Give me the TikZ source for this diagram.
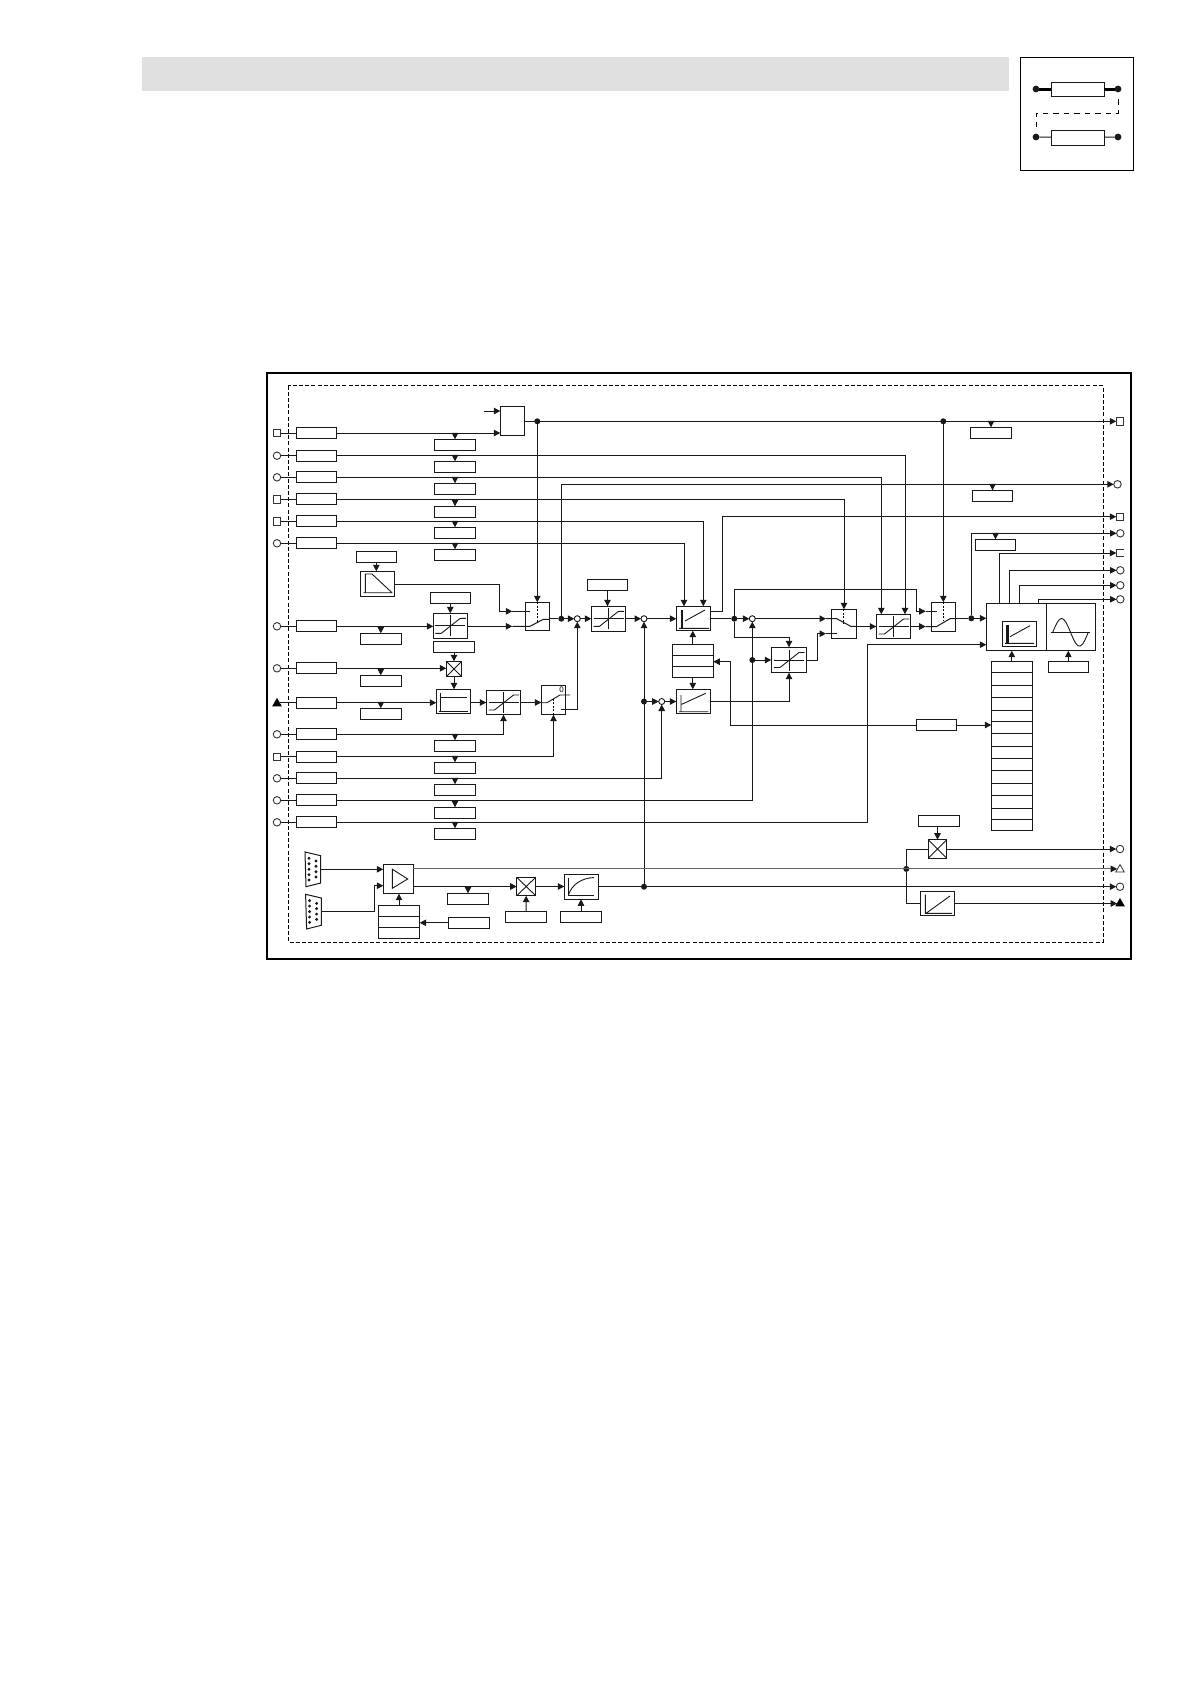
\documentclass[tikz,border=0pt]{standalone}
\usepackage{fontspec}
\setmainfont{Liberation Sans}
\usetikzlibrary{arrows.meta,shapes.geometric}
\tikzset{
  ln/.style={line width=1pt,draw=black!90},
  gln/.style={line width=1.1pt,draw=black!60},
  thinl/.style={line width=.9pt,draw=black!90},
  conn/.style={ln,-{Triangle[length=6.5pt,width=6.5pt]},color=black!90},
  gconn/.style={gln,-{Triangle[length=6.5pt,width=6.5pt,color=black!90]}},
  dsh/.style={line width=1pt,dash pattern=on 4pt off 2.2pt},
  icodsh/.style={line width=1pt,dash pattern=on 5.5pt off 5pt},
  dshs/.style={line width=.9pt,dash pattern=on 2pt off 1.5pt},
  box/.style={draw=black!90,line width=1pt,fill=white,inner sep=0pt,outer sep=0pt,rectangle},
  tsq/.style={draw=black!80,line width=.9pt,fill=white,inner sep=0pt,outer sep=0pt,rectangle,minimum size=7.5pt},
  tci/.style={draw=black!80,line width=.9pt,fill=white,inner sep=0pt,outer sep=0pt,circle,minimum size=7.5pt},
  ttr/.style={draw=black,line width=.6pt,fill=black,inner sep=0pt,outer sep=0pt,regular polygon,regular polygon sides=3,minimum size=9.8pt},
  ttro/.style={draw=black!80,line width=.8pt,fill=white,inner sep=0pt,outer sep=0pt,regular polygon,regular polygon sides=3,minimum size=9.8pt},
  sumc/.style={draw=black!90,line width=.9pt,fill=white,inner sep=0pt,outer sep=0pt,circle,minimum size=6pt},
  jdot/.style={fill=black!90,inner sep=0pt,outer sep=0pt,circle,minimum size=6pt},
  icodot/.style={fill=black!90,inner sep=0pt,outer sep=0pt,circle,minimum size=6.8pt},
}
\newcommand\bx[5]{%
  \pgfmathsetmacro\bw{#4-(#2)}\pgfmathsetmacro\bh{#5-(#3)}%
  \pgfmathsetmacro\bcx{(#2+#4)/2}\pgfmathsetmacro\bcy{(#3+#5)/2}%
  \node[box,minimum width=\bw pt,minimum height=\bh pt] (#1) at (\bcx,\bcy) {};}
\newcommand\xbx[5]{\bx{#1}{#2}{#3}{#4}{#5}%
  \draw[thinl] (#1.north west)--(#1.south east) (#1.north east)--(#1.south west);}
\newcommand\limg[1]{\begin{scope}[shift={(#1.center)}]
  \draw[thinl] (0,-10.5)--(0,10.5) (-15,0)--(15,0);
  \draw[thinl] (-15,7.5)--(-9,7.5)--(10,-7.5)--(15.5,-7.5);
\end{scope}}
\newcommand\dsub[2]{\begin{scope}[shift={(#1,#2)}]
  \draw[line width=1pt,draw=black!90] (0,0)--(15.7,3.7)--(15.7,31)--(1,34.7)--cycle;
  \foreach \d in {6.3,11.7,17.3,22.7,28}{\fill[black!90] (4,\d) circle (1.6pt);}
  \foreach \d in {9,14.3,19.7,25}{\fill[black!90] (11,\d) circle (1.6pt);}
\end{scope}}
\begin{document}
\begin{tikzpicture}[x=1pt,y=-1pt]
\useasboundingbox (0,0) rectangle (1190,1684);
\fill[white] (0,0) rectangle (1190,1684);
% header
\fill[black!12] (142,57) rectangle (1009,91);
% icon
\draw[line width=1pt] (1020,57) rectangle (1133,170);
\bx{icoT}{1051}{82}{1104}{96}
\bx{icoB}{1051}{130}{1104}{145}
\node[icodot] (icoa) at (1036,89) {};
\node[icodot] (icob) at (1118,89) {};
\node[icodot] (icoc) at (1036,137) {};
\node[icodot] (icod) at (1118,137) {};
\draw[line width=3pt] (icoa)--(icoT) (icoT)--(icob);
\draw[ln] (icoc)--(icoB) (icoB)--(icod);
\coordinate (dd1) at (1118,99);
\coordinate (dd2) at (1118,113);
\coordinate (dd3) at (1036,113);
\coordinate (dd4) at (1036,127);
\draw[icodsh] (dd1)--(dd2)--(dd3)--(dd4);
% frames
\draw[line width=2.2pt] (267,373) rectangle (1131,959);
\draw[dsh] (288,385.5) rectangle (1103,942);
% input rows
\foreach \n/\ty/\yy in {1/tsq/433,2/tci/455.7,3/tci/477.3,4/tsq/499.3,5/tsq/521.3,6/tci/543.3,7/tci/626.3,8/tci/668.3,10/tci/734.3,11/tsq/756.7,12/tci/778.3,13/tci/800.3,14/tci/822.3}{
  \node[style/.expanded=\ty] (t\n) at (277,\yy) {};
  \bx{r\n}{296}{\yy-5.5}{336.5}{\yy+5.5}
  \draw[ln] (r\n.west)--(r\n.west -| t\n.east);
}
\node[ttr] (t9) at (277,703.5) {};
\bx{r9}{296}{697.2}{336.5}{708.2}
\draw[ln] (r9.west)--(r9.west -| t9.east);
% parameter boxes under rows
\foreach \n/\yt in {1/439.3,2/461.3,3/483.3,4/506.3,5/527.3,6/549.3,10/740.3,11/762.3,12/784.3,13/807.3,14/828.3}{
  \bx{p\n}{434.3}{\yt}{475.7}{\yt+11}
  \draw[conn] (p\n.north |- r\n.east)--(p\n.north);
}
\foreach \n/\yt in {7/633.3,8/675.3,9/708.3}{
  \bx{p\n}{360.3}{\yt}{401.3}{\yt+11}
  \draw[conn] (p\n.north |- r\n.east)--(p\n.north);
}
% blocks
\bx{A}{500.3}{406.3}{524.7}{435.3}
\bx{pRamp}{356.3}{551.7}{396.3}{562.3}
\bx{Ramp}{360.3}{571.3}{394.7}{596.7}
\draw[thinl] (363.3,592.7)--(392.3,592.7) (365.3,592.7)--(365.3,574)--(372,574)--(392,592.7);
\bx{q7}{430.3}{592.3}{470.3}{603.7}
\bx{LimA}{433.3}{613.3}{467.3}{638.3}\limg{LimA}
\bx{q8}{433.3}{641.3}{474.3}{652.3}
\xbx{XA}{446.3}{661.3}{461.7}{676.7}
\bx{E}{436.3}{689.3}{470.7}{713.7}
\draw[thinl] (439,711.7)--(468.3,711.7) (440,711.7)--(440,693.3) (440,697.3)--(466.7,697.3);
\bx{F}{486.3}{690.3}{520.7}{714.7}\limg{F}
\bx{Z}{541.3}{685.3}{565.7}{714.7}
\draw[thinl] (541.3,702.7)--(547,702.7)--(560,695)--(570,695);
\draw[dshs] (553.3,714.7)--(553.3,699);
\node[font=\fontsize{8}{8}\selectfont,inner sep=0pt] (zero) at (561.7,690) {0};
\bx{S}{525.7}{602.3}{549.3}{630.3}
\draw[dshs] (537.3,602.3)--(537.3,622);
\bx{pL}{587.3}{579.3}{627.7}{590.7}
\bx{L}{591.3}{606.3}{625.7}{631.3}\limg{L}
\bx{B}{676.3}{606.3}{710.7}{630.7}
\draw[line width=2.4pt,black!90] (681.7,609.5)--(681.7,628);
\draw[thinl] (679,628.3)--(709,628.3) (685,621)--(705,610);
\bx{C}{672.3}{644.3}{713.3}{677.3}
\draw[thinl] (C.west |- 0,655.3)--(C.east |- 0,655.3) (C.west |- 0,666.3)--(C.east |- 0,666.3);
\bx{D}{676.3}{689.3}{710.7}{713.7}
\draw[thinl] (681,695)--(681,711.7) (679,711.7)--(708.3,711.7) (681.7,704.3)--(705.7,693.3);
\bx{LM}{771.3}{647.3}{806.7}{672.7}\limg{LM}
\bx{T}{831.3}{609.3}{856.7}{638.3}
\draw[dshs] (843.3,609.3)--(843.3,624);
\bx{LT}{876.3}{614.3}{910.7}{638.7}\limg{LT}
\bx{U}{931.3}{602.3}{955.3}{631.3}
\draw[dshs] (943.3,602.3)--(943.3,621);
\bx{BigA}{986.3}{603.3}{1046.7}{650.7}
\bx{BigB}{1046.7}{603.3}{1095.7}{650.7}
\bx{BigI}{1002.3}{621.3}{1036.7}{646.3}
\draw[line width=2.4pt,black!90] (1007.3,625)--(1007.3,643);
\draw[thinl] (1005,643.3)--(1034,643.3) (1010,636.7)--(1030,625.7);
\draw[thinl] (1050.7,632.3)--(1090,632.3);
\draw[thinl] plot[domain=0:360,samples=40,smooth] ({1052.7+\x/360*35.6},{632.3-13.7*sin(\x)});
\bx{W}{991.3}{661.3}{1032.3}{830.3}
\foreach \d in {37,76,112,151,184,221,259,295,331,370,406,445,478}{
  \draw[thinl] (991.3,660+\d/3)--(1032.3,660+\d/3);
}
\bx{pS}{1048.3}{661.3}{1088.3}{672.3}
\bx{pM}{916.3}{719.3}{956.7}{730.7}
\bx{pA}{970.3}{427.3}{1011.7}{438.3}
\bx{pB}{972.3}{490.3}{1012.7}{501.3}
\bx{pD}{975.3}{539.3}{1015.7}{550.3}
% bottom
\dsub{305}{852}
\dsub{305.6}{894.3}
\bx{Amp}{383.3}{864.3}{413.3}{893.7}
\draw[thinl] (392.3,869.2)--(407.7,879)--(392.3,888.3)--cycle;
\bx{pAmp}{447.3}{893.3}{488.7}{904.3}
\bx{St}{378.3}{905.3}{419.7}{938.3}
\draw[thinl] (St.west |- 0,916.3)--(St.east |- 0,916.3) (St.west |- 0,927.3)--(St.east |- 0,927.3);
\bx{pSt}{448.3}{917.3}{489.7}{928.3}
\xbx{XB}{516.7}{877.3}{535.7}{895.7}
\bx{pXB}{505.3}{911.3}{546.7}{922.3}
\bx{G}{564.3}{874.3}{598.7}{899.3}
\draw[thinl] (568.3,878)--(568.3,895.3)--(594,895.3);
\draw[thinl] (568.3,895.3) .. controls (572,884) and (582,878) .. (594,877.5);
\bx{pG}{560.3}{911.3}{601.7}{922.3}
\xbx{XC}{928.3}{839.7}{946.7}{858.3}
\bx{pXC}{918.3}{815.3}{959.7}{826.3}
\bx{H}{920.3}{891.3}{954.7}{915.7}
\draw[thinl] (925.3,894.5)--(925.3,913.3)--(952,913.3) (926,913.3)--(950,896);
% output terminals
\node[tsq] (oA) at (1120,421.3) {};
\node[tci] (oB) at (1117.5,484.3) {};
\node[tsq] (oC) at (1120,516.7) {};
\node[tci] (oD) at (1120.3,533.3) {};
\coordinate (oE) at (1116.3,553);
\draw[thinl,draw=black!80] (1123.7,549.2)--(1116.3,549.2)--(1116.3,556.8)--(1123.7,556.8);
\node[tci] (oF) at (1120.3,570.3) {};
\node[tci] (oH) at (1120.3,585.3) {};
\node[tci] (oI) at (1120.3,599.3) {};
\node[tci] (oX) at (1120,849) {};
\node[ttro] (oTr) at (1120,869.5) {};
\node[tci] (oG) at (1120,886.7) {};
\node[ttr] (oFl) at (1120,903.5) {};
% summing points and junctions
\node[sumc] (sA) at (577.3,618.7) {};
\node[sumc] (sB) at (644,618.7) {};
\node[sumc] (sC) at (661.7,701.5) {};
\node[sumc] (sD) at (752.3,618.7) {};
\node[jdot] (dA) at (537.3,421.3) {};
\node[jdot] (dB) at (943.3,421.3) {};
\node[jdot] (dS) at (561.3,618.7) {};
\node[jdot] (dD) at (734.3,618.7) {};
\node[jdot] (dC) at (644,701.5) {};
\node[jdot] (dG) at (644,886.7) {};
\node[jdot] (dE) at (752.3,660) {};
\node[jdot] (dF) at (971.3,618.3) {};
\node[jdot] (dH) at (906.3,868.9) {};
% helper coordinates
\coordinate (Ain) at (484,411);
\coordinate (rampo) at (394.7,584.3);
\coordinate (kn1) at (499,611.3);
\coordinate (cSa) at (512.3,611.3);
\coordinate (cSb) at (512.3,626.3);
\coordinate (cB1) at (684,606.3);
\coordinate (cB2) at (703.3,606.3);
\coordinate (cL1) at (881.3,614.3);
\coordinate (cL2) at (905,614.3);
\coordinate (zo) at (561,709.7);
\coordinate (zc) at (577.3,709.7);
\coordinate (cO) at (722.7,611.7);
\coordinate (kn2) at (916,589.3);
\coordinate (cUa) at (925.7,611.3);
\coordinate (cUb) at (925.7,626.5);
\coordinate (kn3) at (789,637.3);
\coordinate (cTa) at (826,618.7);
\coordinate (cTb) at (826,633.7);
\coordinate (kn4) at (817.3,633.7);
\coordinate (kn5) at (730.3,661.7);
\coordinate (cC) at (713.3,661.7);
\coordinate (kn6) at (867.3,644.7);
\coordinate (b1) at (999.3,603.3);
\coordinate (b2) at (1009.3,603.3);
\coordinate (b3) at (1019.3,603.3);
\coordinate (b4) at (1038.3,603.3);
\coordinate (conU) at (320.7,869.3);
\coordinate (conL) at (321.3,911.3);
\coordinate (kn7) at (374.7,885.7);
\coordinate (ampo) at (413.3,868.9);
% connectors: top
\draw[conn] (Ain)--(A.west |- Ain);
\draw[conn] (r1.east)--(A.west |- r1.east);
\draw[conn] (A.east |- dA)--(oA.west |- dA);
\draw[conn] (dA)--(dA |- S.north);
\draw[conn] (dB)--(dB |- U.north);
\draw[conn] (pA.north |- dA)--(pA.north);
\draw[conn] (r2.east) -| (cL2);
\draw[conn] (r3.east) -| (cL1);
\draw[conn] (r4.east) -| (T.north);
\draw[conn] (r5.east) -| (cB2);
\draw[conn] (r6.east) -| (cB1);
\draw[conn] (pRamp.south)--(pRamp.south |- Ramp.north);
\draw[conn] (rampo) -| (kn1)--(cSa);
\draw[ln] (cSa)--(530,611.3);
\draw[conn] (r7.east)--(LimA.west |- r7.east);
\draw[conn] (q7.south)--(q7.south |- LimA.north);
\draw[conn] (LimA.east |- r7.east)--(cSb);
\draw[ln] (cSb)--(530,626.3)--(543.3,619.3)--(549.3,619.3);
\draw[conn] (r8.east)--(XA.west |- r8.east);
\draw[conn] (XA.north |- q8.south)--(XA.north);
\draw[conn] (XA.south)--(XA.south |- E.north);
\draw[conn] (r9.east)--(E.west |- r9.east);
\draw[conn] (E.east |- F.west)--(F.west);
\draw[conn] (F.east)--(Z.west |- F.east);
\draw[conn] (r10.east) -| (F.south);
\draw[conn] (r11.east) -| (Z.south);
\draw[ln] (zo)--(zc);
\draw[conn] (zc)--(sA.south);
\draw[ln] (S.east |- dS)--(dS) ;
\draw[conn] (dS)--(sA.west);
\draw[conn] (dS) |- (oB.west);
\draw[conn] (pB.north |- oB.west)--(pB.north);
\draw[conn] (sA.east)--(L.west |- sA.east);
\draw[conn] (pL.south)--(pL.south |- L.north);
\draw[conn] (L.east |- sB.west)--(sB.west);
\draw[conn] (sB.east)--(B.west |- sB.east);
\draw[conn] (dG)--(sB.south);
\draw[conn] (dC)--(sC.west);
\draw[conn] (sC.east)--(D.west |- sC.east);
\draw[conn] (r12.east) -| (sC.south);
\draw[conn] (r13.east) -| (sD.south);
\draw[conn] (C.north)--(C.north |- B.south);
\draw[conn] (C.south)--(C.south |- D.north);
\draw[ln] (B.east |- dD)--(dD);
\draw[conn] (dD)--(sD.west);
\draw[conn] (sD.east)--(cTa);
\draw[ln] (cTa)--(836.7,618.7)--(850.7,626.3)--(856.7,626.3);
\draw[conn] (dD) |- (kn2) |- (cUa);
\draw[ln] (cUa)--(936.7,611.3);
\draw[conn] (dD) |- (kn3)--(LM.north);
\draw[conn] (dE)--(LM.west);
\draw[conn] (D.east) -| (LM.south);
\draw[ln] (LM.east) -| (kn4);
\draw[conn] (kn4)--(cTb);
\draw[ln] (cTb)--(836.7,633.7);
\draw[conn] (T.east |- LT.west)--(LT.west);
\draw[conn] (LT.east)--(cUb);
\draw[ln] (cUb)--(936.7,626.5)--(950,618.7)--(955.3,618.7);
\draw[ln] (U.east |- dF)--(dF);
\draw[conn] (dF)--(BigA.west |- dF);
\draw[conn] (dF) |- (oD.west);
\draw[conn] (pD.north |- oD.west)--(pD.north);
\draw[ln] (B.east |- cO)--(cO);
\draw[conn] (cO) |- (oC.west);
\draw[conn] (b1) |- (oE);
\draw[conn] (b2) |- (oF.west);
\draw[conn] (b3) |- (oH.west);
\draw[conn] (b4) |- (oI.west);
\draw[conn] (r14.east) -| (kn6)--(BigA.west |- kn6);
\draw[conn] (W.north)--(W.north |- BigA.south);
\draw[conn] (pS.north)--(pS.north |- BigB.south);
\draw[conn] (pM.west) -| (kn5)--(cC);
\draw[conn] (pM.east)--(W.west |- pM.east);
% connectors: bottom
\draw[conn] (conU)--(Amp.west |- conU);
\draw[conn] (conL) -| (kn7)--(Amp.west |- kn7);
\draw[gconn] (ampo)--(oTr.west |- ampo);
\draw[conn] (Amp.east |- XB.west)--(XB.west);
\draw[conn] (pAmp.north |- XB.west)--(pAmp.north);
\draw[conn] (St.north)--(St.north |- Amp.south);
\draw[conn] (pSt.west)--(St.east |- pSt.west);
\draw[conn] (pXB.north)--(XB.south);
\draw[conn] (XB.east)--(G.west |- XB.east);
\draw[conn] (pG.north)--(pG.north |- G.south);
\draw[conn] (G.east |- oG.west)--(oG.west);
\draw[conn] (XC.north |- pXC.south)--(XC.north);
\draw[conn] (XC.east)--(oX.west |- XC.east);
\draw[ln] (XC.west) -| (dH);
\draw[ln] (dH) |- (H.west);
\draw[conn] (H.east)--(oFl.west |- H.east);
\end{tikzpicture}
\end{document}
